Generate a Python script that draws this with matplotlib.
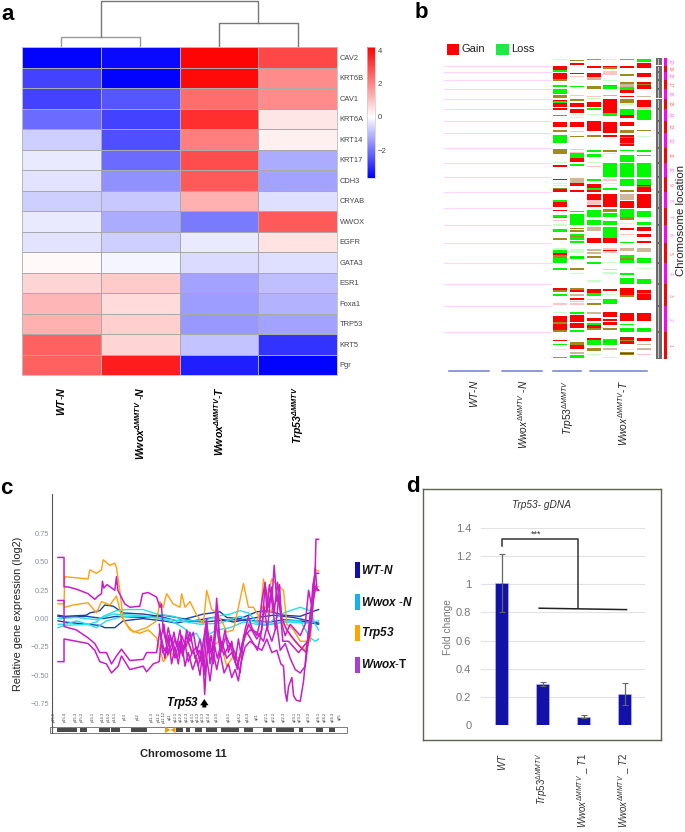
import numpy as np
import matplotlib as mpl
mpl.use('Agg')
import matplotlib.pyplot as plt
from matplotlib.colors import LinearSegmentedColormap, Normalize
from matplotlib.patches import Rectangle

mpl.rcParams['font.family'] = ['Liberation Sans', 'DejaVu Sans']
mpl.rcParams['mathtext.fontset'] = 'custom'
mpl.rcParams['mathtext.rm'] = 'Liberation Sans'
mpl.rcParams['mathtext.it'] = 'Liberation Sans:italic'
mpl.rcParams['mathtext.bf'] = 'Liberation Sans:bold'
mpl.rcParams['mathtext.bfit'] = 'Liberation Sans:italic:bold'

W, H = 685, 832

# panel a
genes = ['CAV2', 'KRT6B', 'CAV1', 'KRT6A', 'KRT14', 'KRT17', 'CDH3', 'CRYAB',
         'WWOX', 'EGFR', 'GATA3', 'ESR1', 'Foxa1', 'TRP53', 'KRT5', 'Pgr']
heat_wt = [-3.6, -2.7, -2.7, -2.1, -0.7, -0.3, -0.4, -0.7, -0.3, -0.4, 0.1, 0.7, 1.2, 1.3, 2.6, 2.6]
heat_wwox_n = [-3.5, -3.6, -2.4, -2.7, -2.5, -2.1, -1.6, -0.8, -1.2, -0.7, -0.15, 0.85, 0.6, 0.8, 0.7, 3.7]
heat_wwox_t = [4.1, 4.0, 2.4, 3.4, 2.1, 2.9, 2.7, 1.3, -1.9, -0.3, -0.5, -1.3, -1.4, -1.45, -0.85, -3.2]
heat_trp53 = [3.0, 1.9, 1.9, 0.4, 0.25, -1.2, -1.3, -0.45, 2.7, 0.45, -0.45, -0.9, -1.1, -1.3, -2.9, -3.6]
dend_left, dend_right, dend_top = 10.3, 23.7, 46.5
a_labels = [r'$\mathbfit{WT}$-$\mathbfit{N}$',
            r'$\mathbfit{Wwox}^{\mathbfit{\Delta MMTV}}$ -$\mathbfit{N}$',
            r'$\mathbfit{Wwox}^{\mathbfit{\Delta MMTV}}$-$\mathbfit{T}$',
            r'$\mathbfit{Trp53}^{\mathbfit{\Delta MMTV}}$']

# panel b: chromosome boundaries and (start, end, call) per sample track
chrom_edges = [58, 65.7, 72, 80, 89, 98.7, 109, 121, 133, 148, 163, 177, 192, 208,
               225, 243, 263, 284, 306, 332, 359]
chrom_names = ['20', '19', '18', '17', '16', '15', '14', '13', '12', '11', '10',
               '9', '8', '7', '6', '5', '4', '3', '2', '1']
track1 = [(59, 60, 'lg'), (65.5, 70, 'r'), (70, 71.5, 'g'), (72.5, 79, 'r'), (79, 80.5, 'o'), (85, 87, 'g'),
          (89, 94, 'g'), (94.5, 98, 'o'), (99.5, 101, 'r'), (101, 103, 'g'), (103, 106.5, 'r'), (107.5, 110, 'r'),
          (115, 116, 'o'), (121.5, 126.5, 'r'), (130, 132, 'o'), (135, 142.5, 'g'), (149, 153.5, 'o'), (162, 163, 'lg'),
          (165, 167, 'r'), (179, 180, 'r'), (182.5, 183.5, 'lg'), (184.5, 185.5, 'lg'), (187.5, 188.5, 'o'), (188.5, 192, 'r'),
          (200, 202, 'g'), (202, 207, 'r'), (209.5, 211, 'r'), (214.5, 217, 'g'), (217, 218, 'o'), (220, 221, 'lr'),
          (224, 226, 'lg'), (229, 232, 'g'), (238, 240, 'o'), (248, 250, 'lg'), (250, 253, 'g'), (253, 255, 'r'),
          (255, 258, 'o'), (258, 263, 'g'), (268, 269.5, 'g'), (288, 290, 'r'), (290, 292, 'o'), (294, 296, 'g'),
          (303, 305, 'lr'), (312, 313, 'lg'), (315.5, 322, 'r'), (322, 324, 'o'), (324, 330, 'r'), (330, 332, 'o'),
          (339.5, 340.5, 'r'), (344, 345, 'g'), (349, 350, 'lg'), (357, 358, 'g')]
track2 = [(59.5, 61, 'o'), (63, 64.5, 'r'), (72.5, 73.5, 'r'), (76, 77, 'lr'), (85.5, 87, 'g'), (95, 96, 'lr'),
          (98.5, 101, 'o'), (103, 107, 'r'), (108.5, 113, 'r'), (114, 115, 'lg'), (117, 118, 'lg'), (121.5, 126.5, 'r'),
          (131, 132, 'lr'), (136, 137, 'o'), (149, 150, 'lr'), (152, 153, 'lr'), (153, 158, 'g'), (158, 162, 'r'),
          (163.5, 166, 'g'), (178, 183, 'lo'), (183, 186, 'r'), (190, 192, 'r'), (210.5, 211.5, 'g'), (214, 225, 'g'),
          (228, 229, 'o'), (230, 231.5, 'o'), (234, 240, 'g'), (236, 237, 'o'), (241, 243, 'g'), (249, 253, 'lg'),
          (255.5, 259, 'g'), (257, 258, 'o'), (268, 270, 'o'), (273, 274, 'lg'), (288, 290, 'o'), (290, 292, 'r'),
          (294, 296, 'lo'), (297.5, 300, 'r'), (300.5, 301.5, 'lr'), (303, 305, 'lr'), (312, 314, 'g'), (314.5, 321.5, 'r'),
          (322.5, 328, 'r'), (330, 331.5, 'g'), (341.5, 345, 'o'), (345, 349, 'r'), (352, 354, 'lo'), (355, 358, 'g')]
track3 = [(59, 60, 'g'), (65.5, 68, 'r'), (72.5, 77, 'r'), (77, 80, 'lo'), (86, 89, 'o'), (96, 97, 'lr'),
          (98, 99, 'lg'), (102, 107, 'r'), (108, 110, 'g'), (114, 115, 'lg'), (121, 131, 'r'), (135, 137, 'o'),
          (149.5, 152, 'g'), (153.5, 157, 'g'), (162, 163, 'lg'), (166, 167, 'lr'), (179, 181, 'g'), (184, 188, 'r'),
          (188, 190, 'g'), (190, 192, 'r'), (194, 200, 'r'), (200, 205, 'lr'), (205, 207, 'r'), (210, 217, 'g'),
          (220, 225, 'g'), (227, 231, 'lo'), (238, 243, 'r'), (249, 251, 'lo'), (252, 254, 'lo'), (256, 258, 'o'),
          (262, 263.5, 'g'), (280, 282, 'lg'), (289, 293, 'r'), (293, 296, 'g'), (299, 300, 'lr'), (303, 305, 'o'),
          (312, 314, 'lo'), (318, 321, 'r'), (323, 325, 'g'), (325, 328, 'r'), (328, 330, 'o'), (337.5, 340, 'r'),
          (340, 345, 'g'), (348, 351, 'o'), (354, 355, 'lg')]
track4 = [(59, 60, 'lg'), (65.5, 68, 'r'), (67, 68.5, 'o'), (71, 75, 'lr'), (80, 81, 'lg'), (85, 89, 'g'),
          (85, 86, 'o'), (95, 96, 'lo'), (99, 107, 'r'), (107, 113, 'r'), (113, 116, 'g'), (121.5, 132.5, 'r'),
          (135, 137, 'r'), (150, 152, 'o'), (152.5, 153.5, 'lg'), (163, 177, 'g'), (179, 181, 'lr'), (183, 184, 'lg'),
          (188, 190, 'g'), (194, 207, 'r'), (209, 212, 'o'), (213, 217, 'g'), (222, 225, 'g'), (228, 230, 'g'),
          (221, 225, 'g'), (227, 238, 'g'), (238, 243, 'r'), (248, 253, 'lr'), (250, 251, 'r'), (262, 263, 'lg'),
          (269, 270, 'lr'), (272, 274, 'lg'), (289, 291, 'r'), (294, 295, 'lg'), (299, 304, 'g'), (312, 317, 'r'),
          (318.5, 321, 'r'), (322, 325, 'r'), (328, 329.5, 'o'), (339, 345, 'g'), (341, 342, 'o'), (348, 350, 'lo'),
          (357, 358, 'lg')]
track5 = [(59, 60, 'g'), (65.5, 68, 'r'), (74, 76, 'o'), (82, 84, 'o'), (84, 87, 'lo'), (87, 90, 'g'),
          (90, 93, 'r'), (96, 97, 'r'), (99, 103, 'o'), (103, 105, 'lg'), (109, 115, 'g'), (115, 118, 'r'),
          (121.5, 126, 'r'), (130, 133, 'o'), (135, 146, 'r'), (137, 138, 'o'), (143, 144, 'o'), (150, 151, 'g'),
          (154.5, 162, 'g'), (163, 177, 'g'), (179, 186, 'g'), (190, 192, 'o'), (194, 200, 'lo'), (201, 208, 'r'),
          (209, 217, 'g'), (217, 220, 'o'), (223, 224, 'lg'), (228, 230, 'r'), (234, 235, 'lr'), (242, 243, 'g'),
          (248, 251, 'lo'), (255, 263, 'g'), (258, 260, 'o'), (273, 275, 'g'), (278, 284, 'g'), (288, 297, 'r'),
          (295, 297, 'o'), (313, 321, 'r'), (324, 325, 'g'), (328, 332, 'g'), (329, 330, 'o'), (337, 344, 'r'),
          (340, 341, 'o'), (349, 350, 'lg'), (352, 355, 'o'), (353, 354, 'r')]
track6 = [(59, 62, 'g'), (63, 68, 'r'), (72.5, 77, 'r'), (82, 89, 'r'), (84, 85, 'o'), (95.5, 97, 'lo'),
          (100, 107, 'r'), (107, 110, 'lr'), (110, 120, 'g'), (130, 131, 'o'), (136, 137, 'lg'), (150, 151.5, 'g'),
          (155, 156, 'g'), (163, 177, 'g'), (179, 185, 'g'), (185, 192, 'r'), (186, 187, 'o'), (194, 208, 'r'),
          (210.5, 217, 'g'), (222, 225, 'g'), (227, 231, 'r'), (234, 237, 'r'), (241, 243, 'r'), (248, 252, 'lo'),
          (257.5, 263, 'g'), (267.5, 269, 'lg'), (279, 284, 'g'), (290, 300, 'r'), (293, 294, 'o'), (312.5, 321, 'r'),
          (328, 332, 'g'), (329, 330, 'o'), (337.5, 341, 'r'), (344, 345, 'lo'), (348, 350, 'lo'), (354, 355, 'lr')]
tracks = [track1, track2, track3, track4, track5, track6]
track_left = [553, 570, 587, 603, 620, 637]
call_colors = {'r': '#ff0000', 'g': '#00f800', 'o': '#a08a20', 'lr': '#ffc4c4', 'lg': '#c8ffc8', 'lo': '#cdb89a'}
b_groups = [(449, 489), (502, 542), (553, 581), (590, 647)]
b_label_x = [474, 523, 568, 623]
b_labels = [r'$\mathit{WT}$-$\mathit{N}$',
            r'$\mathit{Wwox}^{\mathit{\Delta MMTV}}$ -$\mathit{N}$',
            r'$\mathit{Trp53}^{\mathit{\Delta MMTV}}$',
            r'$\mathit{Wwox}^{\mathit{\Delta MMTV}}$-$\mathit{T}$']

# panel c: traces along chromosome 11 (position in arbitrary map units, log2 value)
navy1_x = [175, 195, 260, 270, 300, 315, 340, 370, 430, 480, 530, 560, 610, 660, 680, 720, 770, 800, 850, 900, 945, 955]
navy1_y = [.03, .02, .03, .05, .07, .12, .11, .05, .04, .02, -.02, 0, .04, .06, .01, 0, .06, .07, .03, .02, .07, .08]
navy2_x = [175, 195, 260, 300, 315, 345, 370, 430, 490, 530, 560, 610, 650, 700, 770, 810, 850, 900, 955]
navy2_y = [-.02, -.03, -.05, -.06, -.08, -.08, -.02, 0, -.02, -.04, -.02, -.03, -.02, -.01, -.02, -.03, -.01, -.02, -.05]
navy3_x = [175, 195, 260, 310, 350, 430, 490, 530, 580, 640, 700, 770, 820, 880, 955]
navy3_y = [.02, .01, .02, 0, .02, .01, .03, .01, -.02, .01, -.03, .01, .03, .01, -.04]
cyan1_x = [175, 195, 230, 265, 290, 310, 350, 380, 430, 470, 520, 550, 575, 610, 650, 690, 720, 745, 770, 810, 850, 900, 930, 945, 955]
cyan1_y = [-.05, -.05, -.02, -.05, -.03, .02, .07, .08, .08, .04, .02, -.01, -.02, -.02, .02, .04, .07, .05, -.03, -.03, .05, .10, .07, -.05, -.1]
cyan2_x = [175, 195, 265, 290, 320, 370, 430, 480, 520, 550, 575, 590, 610, 620, 650, 690, 730, 770, 810, 860, 900, 930, 945, 955]
cyan2_y = [-.08, -.06, -.05, -.08, -.02, .02, .02, 0, -.03, -.08, -.14, -.13, -.25, -.15, -.1, -.08, -.03, -.05, -.05, -.02, -.02, -.17, -.2, -.18]
cyan3_x = [175, 230, 290, 340, 400, 470, 540, 600, 660, 720, 790, 860, 920, 955]
cyan3_y = [0, .01, -.01, .04, .03, .01, -.02, -.05, -.04, .02, -.06, -.03, -.04, -.02]
orange1_x = [175, 193, 195, 265, 270, 290, 305, 310, 330, 345, 350, 360, 370, 390, 420, 445, 470, 490, 510, 530, 545, 560, 590, 610, 630, 660, 680, 700, 720, 730, 750]
orange1_y = [.13, .13, .37, .35, .43, .40, .43, .52, .47, .49, .45, .25, 0, -.1, -.13, -.10, -.17, -.38, -.3, -.33, -.3, -.2, -.35, -.35, -.25, -.2, -.42, -.33, -.35, -.15, -.05]
orange2_x = [195, 220, 265, 290, 305, 330, 350, 365, 380, 400, 440, 470, 480, 490, 500, 520, 540, 545, 555, 570, 590, 610, 620, 635, 650, 670, 680, 700, 715, 730, 745, 760, 780, 790, 800, 815, 830, 850, 860, 880, 900, 930, 945, 955]
orange2_y = [.10, .12, .14, .05, .15, .12, .20, .02, -.05, -.12, -.08, -.02, .15, .10, .22, .13, .10, .22, .1, .15, .03, -.05, .25, .08, .05, -.05, -.12, -.10, .1, .31, .10, .1, 0, .35, .20, .35, .30, .25, -.05, -.1, -.2, -.2, .43, .42]
orange3_x = [770, 790, 810, 830, 850, 870, 890, 915, 930, 945, 955]
orange3_y = [-.02, .12, .05, .18, -.05, -.15, -.22, -.28, -.1, .28, .28]
magenta1_x = [175, 193, 193, 205, 230, 265, 285, 295, 305, 308, 312, 322, 345, 350, 354, 375, 390, 420, 428, 445, 470, 480, 484, 490, 498, 505, 515, 522, 530, 540, 550, 560, 570, 580, 590, 600, 610, 618, 625, 633, 640, 650, 655, 665, 675, 685, 695, 705, 715, 722, 735, 745, 755, 770, 778, 785, 795, 800, 808, 815, 822, 830, 838, 845, 855, 870, 885, 900, 915, 925, 935, 945, 950, 955]
magenta1_y = [.54, .54, .28, .28, .26, .22, .17, .20, .22, .33, .27, .30, .25, .37, .25, .13, .10, .11, .22, .23, .19, .10, .13, -.1, -.2, -.08, -.22, -.12, -.25, -.1, -.3, -.1, -.2, -.12, -.3, -.18, -.35, -.05, -.3, -.15, -.28, .18, -.1, -.25, -.1, -.3, -.2, -.38, -.18, -.3, -.1, .02, -.08, -.15, -.05, .15, .32, .05, .3, .15, .47, .15, .3, -.05, -.15, -.05, -.1, -.15, -.05, .25, .1, .45, .25, .25]
magenta2_x = [175, 193, 193, 230, 265, 285, 300, 320, 335, 355, 365, 390, 430, 440, 460, 478, 484, 495, 505, 515, 525, 535, 545, 555, 565, 578, 590, 600, 608, 614, 620, 630, 640, 650, 660, 672, 685, 695, 705, 715, 722, 735, 750, 770, 785, 800, 815, 830, 842, 850, 855, 860, 865, 875, 880, 888, 900, 910, 918, 928, 935, 945, 947, 955]
magenta2_y = [-.38, -.38, -.18, -.2, -.22, -.28, -.38, -.4, -.48, -.42, -.33, -.45, -.42, -.47, -.40, -.38, -.2, -.35, -.15, -.4, -.25, -.4, -.2, -.42, -.3, -.45, -.35, -.5, -.3, -.67, -.35, -.55, -.3, -.45, -.3, -.48, -.4, -.52, -.45, -.55, -.4, -.25, -.2, -.25, -.28, -.18, -.3, -.28, -.4, -.42, -.65, -.73, -.6, -.52, -.68, -.72, -.73, -.55, -.3, -.15, 0, .45, .7, .7]
magenta3_x = [175, 193, 193, 230, 265, 285, 300, 320, 335, 350, 365, 390, 430, 440, 470, 480, 490, 500, 512, 525, 538, 548, 560, 575, 590, 600, 610, 620, 630, 642, 652, 665, 680, 695, 710, 722, 735, 750, 770, 790, 800, 815, 830, 840, 855, 870, 885, 900, 915, 928, 938, 945, 955]
magenta3_y = [.16, .16, -.07, -.1, -.17, -.22, -.3, -.3, -.4, -.33, -.27, -.37, -.36, -.3, -.3, -.1, -.25, -.3, -.15, -.35, -.2, -.33, -.15, -.3, -.25, -.38, -.2, 0, -.4, -.22, -.35, -.2, -.35, -.3, -.42, -.3, -.15, -.1, -.12, -.2, -.08, -.2, -.05, -.28, -.22, -.35, -.45, -.48, -.42, -.1, .3, .4, .4]
magenta4_x = [478, 488, 500, 512, 525, 540, 555, 565, 580, 595, 605, 615, 625, 640, 652, 660, 672, 690, 705, 720, 730, 745, 770, 785, 795, 805, 815, 822, 832, 845, 860, 880, 900, 918, 930, 945, 955]
magenta4_y = [-.05, -.3, -.25, -.3, -.18, -.3, -.22, -.38, -.28, -.42, -.25, -.5, -.2, -.4, .12, -.22, -.32, -.22, -.3, -.48, -.2, -.05, -.18, -.1, .3, .1, .28, .05, .32, 0, -.1, -.18, -.25, -.3, .05, .28, .25]
magenta5_x = [482, 492, 503, 518, 532, 545, 558, 570, 585, 598, 612, 622, 636, 648, 662, 678, 695, 712, 726, 740, 772, 782, 792, 802, 812, 826, 836, 848, 865, 895, 922, 935, 948]
magenta5_y = [-.18, -.05, -.32, -.2, -.35, -.15, -.25, -.12, -.35, -.28, -.45, -.1, -.3, -.05, -.3, -.15, -.28, -.45, -.22, -.12, -.28, -.15, .1, -.1, .22, -.1, .2, -.2, -.2, -.3, -.2, .1, .3]
dark_bands = [(173, 232), (240, 263), (298, 330), (333, 360), (393, 442), (527, 548), (558, 570), (585, 607),
              (617, 650), (663, 717), (732, 760), (788, 817), (827, 880), (895, 908), (948, 968), (985, 1005)]
band_names = ['p15.5', 'p15.4', 'p15.3', 'p15.2', 'p15.1', 'p14.3', 'p14.2', 'p14.1', 'p13', 'p12', 'p11.3', 'p11.2',
              'p11.12', 'q11', 'q12.1', 'q12.2', 'q12.3', 'q13.1', 'q13.2', 'q13.3', 'q13.4', 'q13.5', 'q14.1', 'q14.2',
              'q14.3', 'q21', 'q22.1', 'q22.2', 'q22.3', 'q23.1', 'q23.2', 'q23.3', 'q24.1', 'q24.2', 'q24.3', 'q25']
band_pos = [163, 195, 229, 247, 278, 310, 327, 344, 374, 413, 455, 476, 493, 510, 527, 544, 561, 578, 594, 610, 628, 652,
            687, 720, 743, 770, 800, 820, 850, 883, 898, 925, 955, 975, 997, 1020]
c_legend_names = [r'$\mathbfit{WT}$-$\mathbfit{N}$', r'$\mathbfit{Wwox}$ -$\mathbfit{N}$',
                  r'$\mathbfit{Trp53}$', r'$\mathbfit{Wwox}$-$\mathbf{T}$']
c_legend_colors = ['#1010b0', '#10b4f0', '#ffa500', '#a83fd0']
c_legend_top = [562, 594, 625, 657]

# panel d
d_means = [1.01, 0.29, 0.06, 0.22]
d_errs = [0.205, 0.015, 0.01, 0.08]
d_labels = [r'$\mathit{WT}$', r'$\mathit{Trp53}^{\mathit{\Delta MMTV}}$',
            r'$\mathit{Wwox}^{\mathit{\Delta MMTV}}$ _ $\mathit{T1}$',
            r'$\mathit{Wwox}^{\mathit{\Delta MMTV}}$ _ $\mathit{T2}$']
d_ticks = [0, 0.2, 0.4, 0.6, 0.8, 1, 1.2, 1.4]
bracket_x = [0.01, 0.01, 1.87, 1.87]
bracket_y = [1.27, 1.32, 1.32, 0.83]
bar_x = [0.92, 3.05]
bar_y = [0.83, 0.82]


def ax_px(x0, y0, x1, y1, **kw):
    return fig.add_axes([x0 / W, 1 - y1 / H, (x1 - x0) / W, (y1 - y0) / H], **kw)


def txt(x, y, s, **kw):
    return fig.text(x / W, 1 - y / H, s, **kw)


fig = plt.figure(figsize=(W / 100, H / 100), dpi=100)

# ---- a
ax = ax_px(22, 47, 337, 375)
vmin, vmax = -3.65, 4.18
cmap = LinearSegmentedColormap.from_list('bwr_a', [(0, '#0000ff'), (-vmin / (vmax - vmin), '#ffffff'), (1, '#ff0000')])
heat = np.array([heat_wt, heat_wwox_n, heat_wwox_t, heat_trp53]).T
mesh = ax.pcolormesh(heat, cmap=cmap, norm=Normalize(vmin, vmax), edgecolors='#aaaaaa', linewidth=0.6)
ax.invert_yaxis()
ax.yaxis.tick_right()
ax.set_yticks(np.arange(len(genes)) + 0.5, genes, fontsize=5.4, color='#444444')
ax.set_xticks(np.arange(4) + 0.5, a_labels, rotation=90, fontsize=7.6, va='top', ha='center')
ax.tick_params(length=0)
ax.tick_params(axis='y', pad=2)
ax.tick_params(axis='x', pad=8)
for s in ax.spines.values():
    s.set_color('#bbbbbb')
    s.set_linewidth(0.6)

cax = ax_px(367, 47, 375, 178)
cb = fig.colorbar(mesh, cax=cax, ticks=[-2, 0, 2, 4])
cb.ax.tick_params(length=0, labelsize=5.6, labelcolor='#444444', pad=2)
cb.outline.set_edgecolor('#cccccc')
cb.outline.set_linewidth(0.5)

dax = ax_px(22, 0, 337, 47)
dax.set_xlim(0, 4)
dax.set_ylim(0, 47)
dax.axis('off')
dend_col = '#777777'
dax.plot([.5, .5, 1.5, 1.5], [0, dend_left, dend_left, 0], color='#999999', lw=1)
dax.plot([2.5, 2.5, 3.5, 3.5], [0, dend_right, dend_right, 0], color=dend_col, lw=1)
dax.plot([1, 1, 3, 3], [dend_left, dend_top, dend_top, dend_right], color=dend_col, lw=1)

# ---- b
bax = ax_px(440, 40, 675, 375)
bax.set_xlim(440, 675)
bax.set_ylim(375, 40)
bax.axis('off')
for e in chrom_edges[1:-1]:
    bax.plot([444, 551], [e, e], color='#ffd4ff', lw=0.8)
for left, segs in zip(track_left, tracks):
    for y0, y1, call in segs:
        bax.add_patch(Rectangle((left, y0), 13.5, y1 - y0, color=call_colors[call], lw=0))
for i in range(len(chrom_names)):
    y0, y1 = chrom_edges[i], chrom_edges[i + 1]
    odd = int(chrom_names[i]) % 2 == 1
    bax.add_patch(Rectangle((656, y0 + 0.4), 5.5, y1 - y0 - 0.8, color='#6a6a6a', lw=0))
    bax.add_patch(Rectangle((658.2, y0 + 1.2), 1.1, y1 - y0 - 2.4, color='#c4c4c4', lw=0))
    bax.add_patch(Rectangle((664, y0), 3, y1 - y0, color='#ff0000' if odd else '#ff00ff', lw=0))
    bax.text(670, (y0 + y1) / 2, chrom_names[i], rotation=270, fontsize=3.6,
             color='#ff7070' if odd else '#ff70ff', ha='center', va='center')
for g in b_groups:
    bax.plot(g, [370.7, 370.7], color='#6f7fd0', lw=1.1)
for x, s in zip(b_label_x, b_labels):
    bax.text(x, 380, s, rotation=90, fontsize=7.3, ha='center', va='top', color='#222222', clip_on=False)
bax.add_patch(Rectangle((447, 44), 12, 11, color='#ff0000', lw=0))
bax.add_patch(Rectangle((496, 44), 13, 11, color='#22e844', lw=0))
bax.text(461, 49.5, 'Gain', fontsize=8, va='center', color='#222222')
bax.text(511, 49.5, 'Loss', fontsize=8, va='center', color='#222222')
txt(681, 221, 'Chromosome location', rotation=90, fontsize=8.2, ha='center', va='center', color='#222222')

# ---- c
cax2 = ax_px(52, 494, 347, 733)
cax2.set_xlim(157, 1040)
cax2.set_ylim(-1.01, 1.1)
for s in ['top', 'right', 'bottom']:
    cax2.spines[s].set_visible(False)
cax2.spines['left'].set_color('#555555')
cax2.spines['left'].set_linewidth(0.8)
cax2.set_xticks([])
cax2.set_yticks([-.75, -.5, -.25, 0, .25, .5, .75], ['\u22120.75', '\u22120.50', '\u22120.25', '0.00', '0.25', '0.50', '0.75'])
cax2.tick_params(axis='y', length=0, labelsize=5.3, labelcolor='#8a90a0', pad=2)
for lx, ly in [(navy1_x, navy1_y), (navy2_x, navy2_y), (navy3_x, navy3_y)]:
    cax2.plot(lx, ly, color='#1c3fa8', lw=1)
for lx, ly in [(cyan1_x, cyan1_y), (cyan2_x, cyan2_y), (cyan3_x, cyan3_y)]:
    cax2.plot(lx, ly, color='#22e0ee', lw=1)
for lx, ly in [(orange1_x, orange1_y), (orange2_x, orange2_y), (orange3_x, orange3_y)]:
    cax2.plot(lx, ly, color='#ffa010', lw=1)
for lx, ly in [(magenta1_x, magenta1_y), (magenta2_x, magenta2_y), (magenta3_x, magenta3_y),
               (magenta4_x, magenta4_y), (magenta5_x, magenta5_y)]:
    cax2.plot(lx, ly, color='#c81ec8', lw=1.1)
cax2.add_patch(Rectangle((150, -1.01), 890, 0.055, facecolor='white', edgecolor='#666666', lw=0.6, clip_on=False))
cax2.broken_barh([(a, b - a) for a, b in dark_bands], (-1.0, 0.035), facecolors='#4a4a4a')
cax2.fill([495, 512, 495], [-.955, -.983, -1.01], color='#e8a010', lw=0)
cax2.fill([527, 512, 527], [-.955, -.983, -1.01], color='#e8a010', lw=0)
for bx, name in zip(band_pos, band_names):
    cax2.text(bx, -.865, name, rotation=90, fontsize=3, ha='center', va='center', color='#444444')
cax2.text(548, -.745, r'$\mathbfit{Trp53}$', fontsize=8.3, ha='center', va='center')
cax2.annotate('', xy=(613, -.71), xytext=(613, -.785),
              arrowprops=dict(arrowstyle='simple,head_width=0.6,head_length=0.45,tail_width=0.28',
                              color='black', lw=0, mutation_scale=10, shrinkA=0, shrinkB=0))
txt(18, 614, 'Relative gene expression (log2)', rotation=90, fontsize=7.8, ha='center', va='center', color='#222222')
txt(183, 754, 'Chromosome 11', fontweight='bold', fontsize=8, ha='center', va='center', color='#222222')
for top, col, name in zip(c_legend_top, c_legend_colors, c_legend_names):
    fig.patches.append(Rectangle((355 / W, 1 - (top + 16) / H), 4.5 / W, 16 / H, color=col, lw=0,
                                 transform=fig.transFigure))
    txt(361, top + 8, name, fontsize=8.5, va='center', ha='left', color='#111111')

# ---- d
fax = ax_px(423, 489, 660.7, 740)
fax.set_xticks([])
fax.set_yticks([])
for s in fax.spines.values():
    s.set_color('#5a6450')
    s.set_linewidth(1)
dax2 = ax_px(481, 528, 645, 725)
dax2.patch.set_alpha(0)
dax2.set_xlim(-0.5, 3.5)
dax2.set_ylim(0, 1.4)
dax2.set_axisbelow(True)
dax2.grid(axis='y', color='#e2e2e2', lw=0.8)
for s in dax2.spines.values():
    s.set_visible(False)
dax2.bar(range(4), d_means, width=0.32, color='#1212a8', edgecolor='#c0c0f0', linewidth=0.4)
dax2.errorbar(range(4), d_means, yerr=d_errs, fmt='none', ecolor='#666666', elinewidth=0.9, capsize=2.5, capthick=0.8)
dax2.plot(bracket_x, bracket_y, color='#333333', lw=1.1)
dax2.plot(bar_x, bar_y, color='#222222', lw=1.1)
dax2.text(0.84, 1.355, '***', fontsize=6.5, ha='center', va='center', color='#333333')
dax2.set_yticks(d_ticks, ['0', '0.2', '0.4', '0.6', '0.8', '1', '1.2', '1.4'])
dax2.set_xticks(range(4), d_labels, rotation=90, va='top', ha='center')
dax2.tick_params(axis='y', length=0, labelsize=8, labelcolor='#777777', pad=7)
dax2.tick_params(axis='x', length=0, labelsize=7, labelcolor='#333333', pad=20)
txt(448, 627, 'Fold change', rotation=90, fontsize=7.3, ha='center', va='center', color='#777777')
txt(542, 505, 'Trp53- gDNA', style='italic', fontsize=7.3, ha='center', va='center', color='#333333')

# panel letters
for x, y, letter in [(1, 14, 'a'), (415, 13, 'b'), (0, 488, 'c'), (406, 486, 'd')]:
    txt(x, y, letter, fontsize=16, fontweight='bold', ha='left', va='center')

fig.savefig('out.png', dpi=100)
